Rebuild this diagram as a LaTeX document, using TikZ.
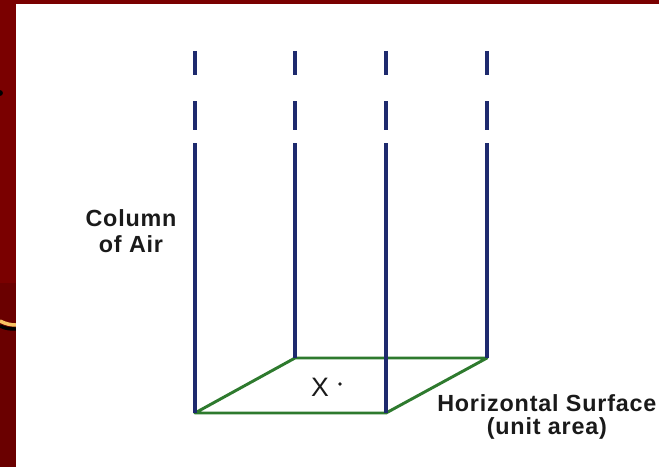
\documentclass[tikz,border=0pt]{standalone}
\usepackage{fontspec}
\setmainfont{Liberation Sans}[LetterSpace=3.5]
\usetikzlibrary{positioning,calc}
\definecolor{slidered}{HTML}{7A0000}
\definecolor{slidedark}{HTML}{6A0000}
\definecolor{airblue}{HTML}{1E2A6E}
\definecolor{surfgreen}{HTML}{2E7A2E}
\definecolor{swoosh}{HTML}{F7C262}
\definecolor{ink}{HTML}{1A1A1A}

\begin{document}
\begin{tikzpicture}[x=0.75pt,y=-0.75pt,
  column/.style={airblue, line width=2.6pt},
  surface/.style={surfgreen, line width=2.2pt, line join=round},
  lbl/.style={text=ink, font=\fontsize{17.5}{20}\selectfont\bfseries, align=center, inner sep=0pt}]
\useasboundingbox (0,0) rectangle (659,467);
% slide frame
\fill[slidered] (0,0) rectangle (659,467);
\fill[slidedark] (0,283) rectangle (16,467);
\draw[black, line width=2.6pt] (0,326) .. controls (6,329) and (11,329) .. (16,329);
\draw[swoosh, line width=2.6pt] (0,321) .. controls (6,324) and (11,325) .. (16,325);
\fill[black] (0,93) circle (2.2pt);
\fill[white] (16,4) rectangle (659,467);

% corners of the unit area
\coordinate (fl) at (195,413);
\coordinate (fr) at (386,413);
\coordinate (bl) at (295,358);
\coordinate (br) at (487,358);

\draw[surface] (fl) -- (fr) -- (br) -- (bl) -- cycle;

% columns of air
\foreach \c in {fl,fr,bl,br} {
  \draw[column] (\c |- 0,51) -- (\c |- 0,75);
  \draw[column] (\c |- 0,101) -- (\c |- 0,130);
  \draw[column] (\c |- 0,143) -- (\c);
}

\node[lbl] (colair) at (131,231) {Column\\of Air};
\node[lbl, anchor=north west] (surflbl) at (437,394) {Horizontal Surface};
\node[lbl, below=4.5pt of surflbl] (unitlbl) {(unit area)};
\node[text=ink, font=\fontsize{20}{22}\selectfont, inner sep=0pt] (xpt) at (320,387) {X};
\fill[ink] (340,384) circle (1.4pt);
\end{tikzpicture}
\end{document}
